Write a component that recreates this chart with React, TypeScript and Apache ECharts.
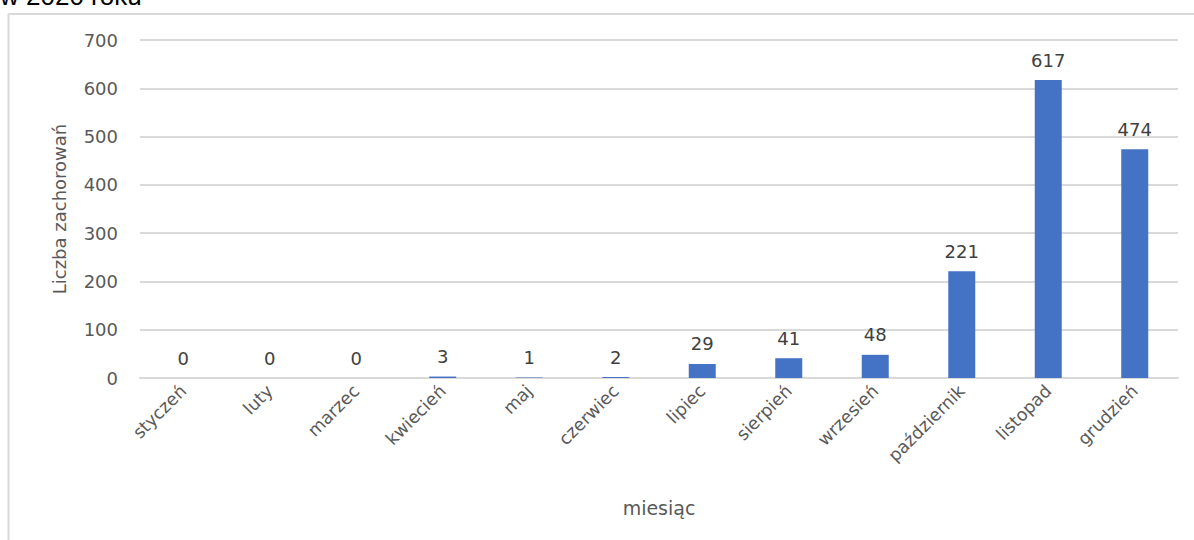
import React, { useEffect, useRef } from "react";
import * as echarts from "echarts";

const months = ["styczeń", "luty", "marzec", "kwiecień", "maj", "czerwiec", "lipiec", "sierpień", "wrzesień", "październik", "listopad", "grudzień"];
const cases = [0, 0, 0, 3, 1, 2, 29, 41, 48, 221, 617, 474];
const titleText = "w 2020 roku";
const yName = "Liczba zachorowań";
const xName = "miesiąc";

export default function App() {
  const ref = useRef<HTMLDivElement>(null);
  useEffect(() => {
    const chart = echarts.init(ref.current!, null, { renderer: "svg" });
    const font = "'DejaVu Sans', 'Open Sans', sans-serif";
    chart.setOption({
      animation: false,
      backgroundColor: "#ffffff",
      textStyle: { fontFamily: font },
      graphic: [
        { type: "line", shape: { x1: 8.5, y1: 14, x2: 8.5, y2: 540 }, style: { stroke: "#d9d9d9", lineWidth: 2 } },
        { type: "line", shape: { x1: 8, y1: 14, x2: 1194, y2: 14 }, style: { stroke: "#d9d9d9", lineWidth: 2 } },
        { type: "text", left: 0, top: -17, style: { text: titleText, fontSize: 26, fill: "#000000", fontFamily: "'Liberation Sans', Arial, sans-serif" } },
      ],
      grid: { left: 140, right: 16, top: 40, bottom: 162, containLabel: false },
      xAxis: {
        type: "category",
        data: months,
        name: xName,
        nameLocation: "middle",
        nameGap: 120,
        nameTextStyle: { fontSize: 19, color: "#595959", fontFamily: font },
        axisLine: { lineStyle: { color: "#d9d9d9", width: 2 } },
        axisTick: { show: false },
        axisLabel: { rotate: 45, fontSize: 17.5, color: "#595959", margin: 10, fontFamily: font },
      },
      yAxis: {
        type: "value",
        min: 0,
        max: 700,
        interval: 100,
        name: yName,
        nameLocation: "middle",
        nameGap: 72,
        nameTextStyle: { fontSize: 18, color: "#595959", fontFamily: font },
        axisLine: { show: false },
        axisTick: { show: false },
        axisLabel: { fontSize: 18, color: "#595959", margin: 22, fontFamily: font },
        splitLine: { lineStyle: { color: "#d9d9d9", width: 2 } },
      },
      series: [
        {
          type: "bar",
          data: cases,
          barWidth: 27,
          itemStyle: { color: "#4472c4" },
          label: { show: true, position: "top", distance: 11, fontSize: 18, color: "#404040", fontFamily: font },
        },
      ],
    });
    return () => chart.dispose();
  }, []);
  return <div ref={ref} style={{ position: "fixed", left: 0, top: 0, width: 1194, height: 540 }} />;
}
